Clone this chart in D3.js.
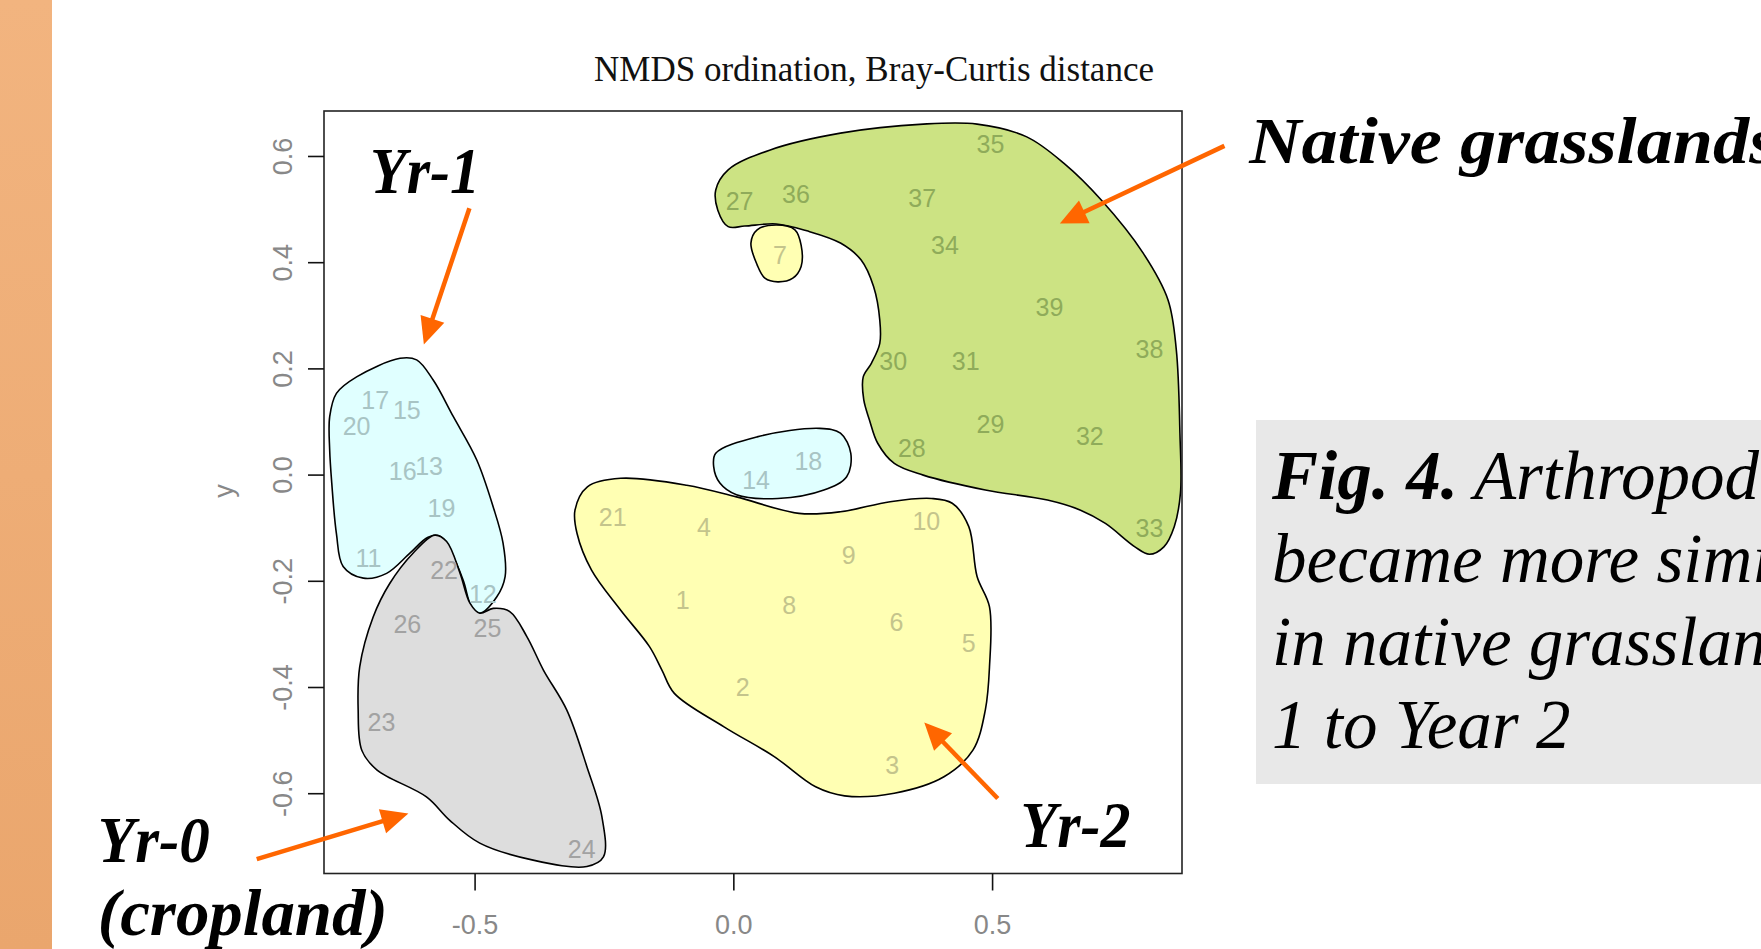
<!DOCTYPE html>
<html><head><meta charset="utf-8">
<script src="https://cdn.jsdelivr.net/npm/d3@7"></script>
<style>html,body{margin:0;padding:0;background:#fff;overflow:hidden}</style>
</head><body><svg id="c" width="1761" height="949"></svg>
<script>
// ---------- data ----------
const siteLabels = ["1","2","3","4","5","6","7","8","9","10","11","12","13","14","15","16","17","18","19","20",
  "21","22","23","24","25","26","27","28","29","30","31","32","33","34","35","36","37","38","39"];
const siteX = [-0.098,0.018,0.307,-0.057,0.455,0.315,0.090,0.108,0.223,0.373,
  -0.705,-0.484,-0.588,0.044,-0.631,-0.639,-0.692,0.145,-0.564,-0.728,
  -0.233,-0.559,-0.680,-0.293,-0.475,-0.630,
  0.012,0.345,0.497,0.309,0.449,0.689,0.804,0.409,0.497,0.121,0.365,0.804,0.611];
const siteY = [-0.236,-0.400,-0.546,-0.099,-0.318,-0.277,0.414,-0.246,-0.151,-0.087,
  -0.158,-0.224,0.016,-0.010,0.122,0.007,0.140,0.026,-0.062,0.092,
  -0.079,-0.180,-0.465,-0.706,-0.289,-0.281,
  0.515,0.051,0.095,0.214,0.214,0.073,-0.100,0.432,0.622,0.528,0.521,0.236,0.316];
const siteGroup = ["Yr-2","Yr-2","Yr-2","Yr-2","Yr-2","Yr-2","Yr-2","Yr-2","Yr-2","Yr-2",
  "Yr-1","Yr-1","Yr-1","Yr-1","Yr-1","Yr-1","Yr-1","Yr-1","Yr-1","Yr-1",
  "Yr-2","Yr-0","Yr-0","Yr-0","Yr-0","Yr-0",
  "Native","Native","Native","Native","Native","Native","Native","Native","Native","Native","Native","Native","Native"];

const groups = ["Native","Yr-2","Yr-1","Yr-0"];
const groupFill = ["#CCE383","#FFFFB3","#E0FFFF","#DDDDDD"];
const groupText = ["#8FAB5A","#C4C48C","#A8C4C4","#A2A2A2"];

const xTicks = [-0.5, 0.0, 0.5];
const yTicks = [-0.6, -0.4, -0.2, 0.0, 0.2, 0.4, 0.6];

// smoothed hull outlines (data units)
const hullNative = [[-0.010,0.467],[-0.030,0.498],[-0.034,0.536],[-0.010,0.574],[0.070,0.611],[0.207,0.643],
  [0.367,0.660],[0.471,0.660],[0.567,0.636],[0.639,0.586],[0.711,0.517],[0.792,0.417],[0.840,0.329],
  [0.856,0.235],[0.863,0.078],[0.864,-0.035],[0.852,-0.098],[0.832,-0.136],[0.804,-0.150],[0.776,-0.136],
  [0.719,-0.092],[0.671,-0.067],[0.607,-0.048],[0.487,-0.029],[0.367,-0.001],[0.311,0.021],[0.279,0.059],
  [0.263,0.103],[0.252,0.141],[0.251,0.184],[0.267,0.210],[0.283,0.247],[0.283,0.291],[0.271,0.354],
  [0.247,0.404],[0.207,0.436],[0.142,0.459],[0.083,0.472],[0.022,0.468]];
const hullYr2Small = [[0.083,0.470],[0.119,0.461],[0.131,0.432],[0.131,0.392],[0.115,0.370],[0.086,0.363],
  [0.061,0.370],[0.046,0.395],[0.034,0.436],[0.046,0.461]];
const hullYr2 = [[-0.306,-0.067],[-0.282,-0.023],[-0.218,-0.007],[-0.090,-0.020],[0.006,-0.042],[0.127,-0.073],
  [0.207,-0.070],[0.303,-0.051],[0.383,-0.045],[0.423,-0.054],[0.455,-0.098],[0.471,-0.192],[0.495,-0.249],
  [0.495,-0.362],[0.487,-0.443],[0.463,-0.519],[0.407,-0.569],[0.311,-0.600],[0.215,-0.605],[0.159,-0.588],
  [0.079,-0.531],[-0.018,-0.475],[-0.114,-0.412],[-0.138,-0.368],[-0.162,-0.324],[-0.218,-0.255],
  [-0.274,-0.180],[-0.302,-0.111]];
const hullYr1Small = [[-0.034,0.040],[0.046,0.071],[0.167,0.087],[0.207,0.078],[0.227,0.040],[0.219,-0.004],
  [0.175,-0.029],[0.086,-0.045],[0.006,-0.038],[-0.026,-0.016],[-0.038,0.015]];
const hullYr1 = [[-0.780,0.109],[-0.767,0.153],[-0.728,0.184],[-0.644,0.219],[-0.612,0.216],[-0.580,0.178],
  [-0.541,0.109],[-0.496,0.028],[-0.464,-0.061],[-0.445,-0.129],[-0.441,-0.192],[-0.457,-0.230],
  [-0.490,-0.261],[-0.506,-0.249],[-0.522,-0.199],[-0.548,-0.142],[-0.567,-0.116],[-0.590,-0.118],
  [-0.625,-0.148],[-0.670,-0.186],[-0.715,-0.195],[-0.754,-0.173],[-0.767,-0.111],[-0.776,-0.016],[-0.780,0.046]];
const hullYr0 = [[-0.577,-0.114],[-0.554,-0.126],[-0.528,-0.186],[-0.509,-0.242],[-0.490,-0.261],[-0.464,-0.252],
  [-0.432,-0.258],[-0.399,-0.305],[-0.367,-0.368],[-0.322,-0.443],[-0.283,-0.550],[-0.254,-0.644],
  [-0.251,-0.720],[-0.283,-0.738],[-0.387,-0.726],[-0.490,-0.694],[-0.548,-0.651],[-0.593,-0.607],
  [-0.689,-0.556],[-0.718,-0.519],[-0.725,-0.443],[-0.722,-0.362],[-0.696,-0.268],[-0.664,-0.205],[-0.619,-0.148]];
const hulls = [
  {group:"Native", pts:hullNative},
  {group:"Yr-2", pts:hullYr2Small},
  {group:"Yr-2", pts:hullYr2},
  {group:"Yr-1", pts:hullYr1Small},
  {group:"Yr-1", pts:hullYr1},
  {group:"Yr-0", pts:hullYr0}
];

// annotations (data units): text anchor and arrow start/tip
const annoText = ["Yr-1","Native grasslands","Yr-2","Yr-0","(cropland)"];
const annoX = [-0.702, 0.997, 0.555, -1.228, -1.228];
const annoY = [0.530, 0.587, -0.701, -0.729, -0.867];
const annoWidth = [110, 528, 110, 112, 290];
const arrowFrom = [[-0.510,0.5015],[0.949,0.619],[0.511,-0.610],[-0.921,-0.724]];
const arrowTo = [[-0.598,0.245],[0.631,0.473],[0.369,-0.467],[-0.628,-0.638]];

const titleText = "NMDS ordination, Bray-Curtis distance";
const captionBold = "Fig. 4.";
const captionLines = [" Arthropod communities","became more similar to those","in native grasslands from Year","1 to Year 2"];

// ---------- drawing ----------
const svg = d3.select("#c");
const W = 1761, H = 949;
const plot = {l:324, r:1182, t:111, b:873.5};

const x = d3.scaleLinear().domain([-0.791, 0.867]).range([plot.l, plot.r]);
const y = d3.scaleLinear().domain([-0.7512, 0.6847]).range([plot.b, plot.t]);
const fmt = d => d.toFixed(1);

const defs = svg.append("defs");
const grad = defs.append("linearGradient").attr("id","bar").attr("x1",0).attr("y1",0).attr("x2",0).attr("y2",1);
grad.append("stop").attr("offset","0%").attr("stop-color","#F2B47F");
grad.append("stop").attr("offset","100%").attr("stop-color","#EAA66D");
defs.append("clipPath").attr("id","plotclip").append("rect")
  .attr("x",plot.l).attr("y",plot.t).attr("width",plot.r-plot.l).attr("height",plot.b-plot.t);

svg.append("rect").attr("width",W).attr("height",H).attr("fill","#fff");
svg.append("rect").attr("x",0).attr("y",0).attr("width",52).attr("height",H).attr("fill","url(#bar)");

// title
svg.append("text").attr("x",874).attr("y",81).attr("text-anchor","middle")
  .attr("font-family","'Liberation Serif','Times New Roman',serif").attr("font-size",35)
  .attr("fill","#111").text(titleText);

// hulls
const line = d3.line().x(d=>x(d[0])).y(d=>y(d[1])).curve(d3.curveCatmullRomClosed.alpha(0.5));
const gH = svg.append("g").attr("clip-path","url(#plotclip)");
gH.selectAll("path").data(hulls).join("path")
  .attr("d", d=>line(d.pts))
  .attr("fill", d=>groupFill[groups.indexOf(d.group)])
  .attr("stroke","#000").attr("stroke-width",1.6).attr("stroke-linejoin","round");

// site labels
const sites = siteLabels.map((s,i)=>({s, x:siteX[i], y:siteY[i], g:siteGroup[i]}));
svg.append("g").selectAll("text").data(sites).join("text")
  .attr("x", d=>x(d.x)).attr("y", d=>y(d.y))
  .attr("text-anchor","middle").attr("dominant-baseline","central")
  .attr("font-family","'Liberation Sans',Arial,sans-serif").attr("font-size",25)
  .attr("fill", d=>groupText[groups.indexOf(d.g)])
  .text(d=>d.s);

// frame
svg.append("rect").attr("x",plot.l).attr("y",plot.t).attr("width",plot.r-plot.l).attr("height",plot.b-plot.t)
  .attr("fill","none").attr("stroke","#222").attr("stroke-width",1.6);

// axes
const axisFont = "'Liberation Sans',Arial,sans-serif";
const gx = svg.append("g").attr("transform",`translate(0,${plot.b})`)
  .call(d3.axisBottom(x).tickValues(xTicks).tickFormat(fmt).tickSize(17).tickPadding(0));
gx.select(".domain").remove();
gx.selectAll(".tick line").attr("stroke","#111").attr("stroke-width",1.6);
gx.selectAll(".tick text").attr("y",51).attr("dy","0.35em").attr("font-family",axisFont).attr("font-size",27).attr("fill","#888");

const gy = svg.append("g").attr("transform",`translate(${plot.l},0)`)
  .call(d3.axisLeft(y).tickValues(yTicks).tickFormat(fmt).tickSize(16).tickPadding(0));
gy.select(".domain").remove();
gy.selectAll(".tick line").attr("stroke","#111").attr("stroke-width",1.6);
gy.selectAll(".tick text").attr("x",null).attr("dy",null)
  .attr("transform","translate(-41,0) rotate(-90)")
  .attr("text-anchor","middle").attr("dominant-baseline","central")
  .attr("font-family",axisFont).attr("font-size",27).attr("fill","#888");

svg.append("text").attr("transform",`translate(224,491) rotate(-90)`).attr("text-anchor","middle")
  .attr("dominant-baseline","central").attr("font-family",axisFont).attr("font-size",27).attr("fill","#888").text("y");

// arrows
const orange = "#FF6600";
const gA = svg.append("g");
arrowFrom.forEach((f,i)=>{
  const x0=x(f[0]), y0=y(f[1]), x1=x(arrowTo[i][0]), y1=y(arrowTo[i][1]);
  const dx=x1-x0, dy=y1-y0, L=Math.hypot(dx,dy), ux=dx/L, uy=dy/L;
  const hl=27, hw=12.5;
  const bx=x1-ux*hl, by=y1-uy*hl;
  gA.append("line").attr("x1",x0).attr("y1",y0).attr("x2",bx+ux*2).attr("y2",by+uy*2)
    .attr("stroke",orange).attr("stroke-width",4.5);
  gA.append("path").attr("d",`M${x1},${y1}L${bx-uy*hw},${by+ux*hw}L${bx+uy*hw},${by-ux*hw}Z`).attr("fill",orange);
});

// annotation text
svg.append("g").selectAll("text").data(annoText).join("text")
  .attr("x",(d,i)=>x(annoX[i])).attr("y",(d,i)=>y(annoY[i]))
  .attr("font-family","'Liberation Serif','Times New Roman',serif").attr("font-style","italic").attr("font-weight","bold")
  .attr("font-size",66).attr("fill","#000")
  .attr("textLength",(d,i)=>annoWidth[i]).attr("lengthAdjust","spacingAndGlyphs")
  .text(d=>d);

// caption box
svg.append("rect").attr("x",1256).attr("y",420).attr("width",540).attr("height",364).attr("fill","#E8E8E8");
const cap = svg.append("g").attr("font-family","'Liberation Serif','Times New Roman',serif")
  .attr("font-style","italic").attr("font-size",69).attr("fill","#000");
const capY = [499, 582, 665, 748];
captionLines.forEach((t,i)=>{
  const tx = cap.append("text").attr("x",1272).attr("y",capY[i]);
  if(i===0){ tx.append("tspan").attr("font-weight","bold").text(captionBold); }
  tx.append("tspan").text(t);
});
</script></body></html>
